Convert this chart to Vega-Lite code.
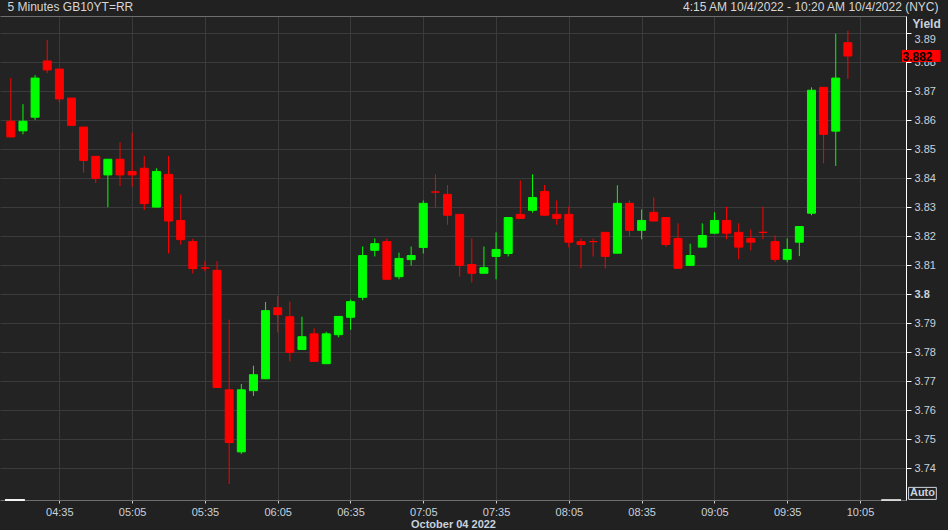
{
  "$schema": "https://vega.github.io/schema/vega-lite/v6.json",
  "width": 906,
  "height": 484,
  "autosize": {"type": "none"},
  "padding": {"left": 0, "top": 16, "right": 42, "bottom": 30},
  "background": "#212121",
  "config": {"view": {"fill": "#222322", "stroke": null}, "font": "Liberation Sans"},
  "data": {"values": [
    {"t": "2022-10-04T04:15:00", "o": 3.8597, "h": 3.8746, "l": 3.8543, "c": 3.8543},
    {"t": "2022-10-04T04:20:00", "o": 3.8564, "h": 3.8656, "l": 3.8552, "c": 3.8597},
    {"t": "2022-10-04T04:25:00", "o": 3.8611, "h": 3.8756, "l": 3.8601, "c": 3.8746},
    {"t": "2022-10-04T04:30:00", "o": 3.8805, "h": 3.8878, "l": 3.8763, "c": 3.8774},
    {"t": "2022-10-04T04:35:00", "o": 3.8777, "h": 3.8777, "l": 3.8662, "c": 3.8674},
    {"t": "2022-10-04T04:40:00", "o": 3.8677, "h": 3.8677, "l": 3.8583, "c": 3.8583},
    {"t": "2022-10-04T04:45:00", "o": 3.8577, "h": 3.8577, "l": 3.8420, "c": 3.8462},
    {"t": "2022-10-04T04:50:00", "o": 3.8476, "h": 3.8476, "l": 3.8384, "c": 3.8400},
    {"t": "2022-10-04T04:55:00", "o": 3.8412, "h": 3.8466, "l": 3.8301, "c": 3.8466},
    {"t": "2022-10-04T05:00:00", "o": 3.8466, "h": 3.8524, "l": 3.8374, "c": 3.8412},
    {"t": "2022-10-04T05:05:00", "o": 3.8424, "h": 3.8558, "l": 3.8371, "c": 3.8412},
    {"t": "2022-10-04T05:10:00", "o": 3.8435, "h": 3.8477, "l": 3.8291, "c": 3.8313},
    {"t": "2022-10-04T05:15:00", "o": 3.8301, "h": 3.8435, "l": 3.8301, "c": 3.8424},
    {"t": "2022-10-04T05:20:00", "o": 3.8414, "h": 3.8477, "l": 3.8141, "c": 3.8253},
    {"t": "2022-10-04T05:25:00", "o": 3.8255, "h": 3.8345, "l": 3.8172, "c": 3.8189},
    {"t": "2022-10-04T05:30:00", "o": 3.8182, "h": 3.8192, "l": 3.8072, "c": 3.8089},
    {"t": "2022-10-04T05:35:00", "o": 3.8091, "h": 3.8114, "l": 3.8080, "c": 3.8091},
    {"t": "2022-10-04T05:40:00", "o": 3.8083, "h": 3.8114, "l": 3.7679, "c": 3.7679},
    {"t": "2022-10-04T05:45:00", "o": 3.7671, "h": 3.7913, "l": 3.7346, "c": 3.7489},
    {"t": "2022-10-04T05:50:00", "o": 3.7457, "h": 3.7691, "l": 3.7450, "c": 3.7671},
    {"t": "2022-10-04T05:55:00", "o": 3.7668, "h": 3.7754, "l": 3.7650, "c": 3.7723},
    {"t": "2022-10-04T06:00:00", "o": 3.7709, "h": 3.7974, "l": 3.7709, "c": 3.7944},
    {"t": "2022-10-04T06:05:00", "o": 3.7954, "h": 3.7995, "l": 3.7869, "c": 3.7930},
    {"t": "2022-10-04T06:10:00", "o": 3.7923, "h": 3.7975, "l": 3.7769, "c": 3.7800},
    {"t": "2022-10-04T06:15:00", "o": 3.7810, "h": 3.7923, "l": 3.7810, "c": 3.7854},
    {"t": "2022-10-04T06:20:00", "o": 3.7864, "h": 3.7883, "l": 3.7769, "c": 3.7769},
    {"t": "2022-10-04T06:25:00", "o": 3.7761, "h": 3.7871, "l": 3.7761, "c": 3.7864},
    {"t": "2022-10-04T06:30:00", "o": 3.7861, "h": 3.7924, "l": 3.7852, "c": 3.7924},
    {"t": "2022-10-04T06:35:00", "o": 3.7921, "h": 3.7982, "l": 3.7878, "c": 3.7975},
    {"t": "2022-10-04T06:40:00", "o": 3.7990, "h": 3.8165, "l": 3.7980, "c": 3.8134},
    {"t": "2022-10-04T06:45:00", "o": 3.8152, "h": 3.8193, "l": 3.8131, "c": 3.8175},
    {"t": "2022-10-04T06:50:00", "o": 3.8182, "h": 3.8193, "l": 3.8052, "c": 3.8052},
    {"t": "2022-10-04T06:55:00", "o": 3.8061, "h": 3.8144, "l": 3.8052, "c": 3.8124},
    {"t": "2022-10-04T07:00:00", "o": 3.8120, "h": 3.8165, "l": 3.8099, "c": 3.8134},
    {"t": "2022-10-04T07:05:00", "o": 3.8162, "h": 3.8324, "l": 3.8141, "c": 3.8314},
    {"t": "2022-10-04T07:10:00", "o": 3.8353, "h": 3.8414, "l": 3.8300, "c": 3.8353},
    {"t": "2022-10-04T07:15:00", "o": 3.8345, "h": 3.8377, "l": 3.8240, "c": 3.8273},
    {"t": "2022-10-04T07:20:00", "o": 3.8276, "h": 3.8276, "l": 3.8061, "c": 3.8100},
    {"t": "2022-10-04T07:25:00", "o": 3.8103, "h": 3.8193, "l": 3.8041, "c": 3.8073},
    {"t": "2022-10-04T07:30:00", "o": 3.8073, "h": 3.8165, "l": 3.8073, "c": 3.8092},
    {"t": "2022-10-04T07:35:00", "o": 3.8131, "h": 3.8214, "l": 3.8052, "c": 3.8155},
    {"t": "2022-10-04T07:40:00", "o": 3.8141, "h": 3.8265, "l": 3.8131, "c": 3.8265},
    {"t": "2022-10-04T07:45:00", "o": 3.8276, "h": 3.8393, "l": 3.8262, "c": 3.8262},
    {"t": "2022-10-04T07:50:00", "o": 3.8290, "h": 3.8414, "l": 3.8282, "c": 3.8334},
    {"t": "2022-10-04T07:55:00", "o": 3.8355, "h": 3.8377, "l": 3.8273, "c": 3.8273},
    {"t": "2022-10-04T08:00:00", "o": 3.8276, "h": 3.8324, "l": 3.8240, "c": 3.8262},
    {"t": "2022-10-04T08:05:00", "o": 3.8276, "h": 3.8303, "l": 3.8162, "c": 3.8180},
    {"t": "2022-10-04T08:10:00", "o": 3.8182, "h": 3.8193, "l": 3.8090, "c": 3.8172},
    {"t": "2022-10-04T08:15:00", "o": 3.8182, "h": 3.8193, "l": 3.8131, "c": 3.8182},
    {"t": "2022-10-04T08:20:00", "o": 3.8214, "h": 3.8214, "l": 3.8090, "c": 3.8131},
    {"t": "2022-10-04T08:25:00", "o": 3.8142, "h": 3.8376, "l": 3.8142, "c": 3.8314},
    {"t": "2022-10-04T08:30:00", "o": 3.8314, "h": 3.8324, "l": 3.8200, "c": 3.8221},
    {"t": "2022-10-04T08:35:00", "o": 3.8221, "h": 3.8293, "l": 3.8190, "c": 3.8255},
    {"t": "2022-10-04T08:40:00", "o": 3.8283, "h": 3.8334, "l": 3.8253, "c": 3.8253},
    {"t": "2022-10-04T08:45:00", "o": 3.8265, "h": 3.8265, "l": 3.8163, "c": 3.8172},
    {"t": "2022-10-04T08:50:00", "o": 3.8193, "h": 3.8245, "l": 3.8090, "c": 3.8090},
    {"t": "2022-10-04T08:55:00", "o": 3.8100, "h": 3.8175, "l": 3.8100, "c": 3.8134},
    {"t": "2022-10-04T09:00:00", "o": 3.8163, "h": 3.8245, "l": 3.8163, "c": 3.8203},
    {"t": "2022-10-04T09:05:00", "o": 3.8211, "h": 3.8283, "l": 3.8211, "c": 3.8255},
    {"t": "2022-10-04T09:10:00", "o": 3.8255, "h": 3.8302, "l": 3.8190, "c": 3.8211},
    {"t": "2022-10-04T09:15:00", "o": 3.8214, "h": 3.8245, "l": 3.8121, "c": 3.8163},
    {"t": "2022-10-04T09:20:00", "o": 3.8193, "h": 3.8224, "l": 3.8152, "c": 3.8180},
    {"t": "2022-10-04T09:25:00", "o": 3.8214, "h": 3.8302, "l": 3.8190, "c": 3.8214},
    {"t": "2022-10-04T09:30:00", "o": 3.8182, "h": 3.8203, "l": 3.8111, "c": 3.8121},
    {"t": "2022-10-04T09:35:00", "o": 3.8121, "h": 3.8193, "l": 3.8111, "c": 3.8155},
    {"t": "2022-10-04T09:40:00", "o": 3.8180, "h": 3.8234, "l": 3.8132, "c": 3.8234},
    {"t": "2022-10-04T09:45:00", "o": 3.8280, "h": 3.8714, "l": 3.8273, "c": 3.8704},
    {"t": "2022-10-04T09:50:00", "o": 3.8714, "h": 3.8714, "l": 3.8452, "c": 3.8552},
    {"t": "2022-10-04T09:55:00", "o": 3.8563, "h": 3.8899, "l": 3.8443, "c": 3.8746},
    {"t": "2022-10-04T10:00:00", "o": 3.8868, "h": 3.8909, "l": 3.8743, "c": 3.8822}
  ]},
  "layer": [
    {
      "mark": {"type": "rule", "strokeWidth": 1},
      "encoding": {
        "x": {
          "field": "t", "type": "temporal",
          "scale": {"nice": false, "domain": [
            {"year": 2022, "month": 10, "date": 4, "hours": 4, "minutes": 12, "seconds": 36},
            {"year": 2022, "month": 10, "date": 4, "hours": 10, "minutes": 21, "seconds": 54}
          ]},
          "axis": {
            "orient": "bottom",
            "values": [
              {"year": 2022, "month": 10, "date": 4, "hours": 4, "minutes": 35},
              {"year": 2022, "month": 10, "date": 4, "hours": 5, "minutes": 5},
              {"year": 2022, "month": 10, "date": 4, "hours": 5, "minutes": 35},
              {"year": 2022, "month": 10, "date": 4, "hours": 6, "minutes": 5},
              {"year": 2022, "month": 10, "date": 4, "hours": 6, "minutes": 35},
              {"year": 2022, "month": 10, "date": 4, "hours": 7, "minutes": 5},
              {"year": 2022, "month": 10, "date": 4, "hours": 7, "minutes": 35},
              {"year": 2022, "month": 10, "date": 4, "hours": 8, "minutes": 5},
              {"year": 2022, "month": 10, "date": 4, "hours": 8, "minutes": 35},
              {"year": 2022, "month": 10, "date": 4, "hours": 9, "minutes": 5},
              {"year": 2022, "month": 10, "date": 4, "hours": 9, "minutes": 35},
              {"year": 2022, "month": 10, "date": 4, "hours": 10, "minutes": 5}
            ],
            "format": "%H:%M",
            "labelColor": "#c9d1dc",
            "labelFontSize": 11,
            "labelPadding": 3,
            "labelFlush": false,
            "labelOverlap": false,
            "tickColor": "#d0d0d0",
            "tickSize": 3,
            "domainColor": "#6e6e6e",
            "grid": true,
            "gridColor": "#3b3b3b",
            "title": "October 04 2022",
            "titleColor": "#c9d1dc",
            "titleFontSize": 11,
            "titleFontWeight": "bold",
            "titlePadding": 1
          }
        },
        "y": {
          "field": "l", "type": "quantitative",
          "scale": {"domain": [3.7291, 3.896], "nice": false, "zero": false},
          "axis": {
            "orient": "right",
            "values": [3.74, 3.75, 3.76, 3.77, 3.78, 3.79, 3.8, 3.81, 3.82, 3.83, 3.84, 3.85, 3.86, 3.87, 3.88, 3.89],
            "format": ".2~f",
            "labelColor": "#c9d1dc",
            "labelFontSize": 11,
            "labelPadding": 3,
            "labelFontWeight": {"condition": {"test": "abs(datum.value - 3.8) < 0.0001", "value": "bold"}, "value": "normal"},
            "labelBaseline": {"condition": {"test": "datum.value > 3.885", "value": "top"}, "value": "middle"},
            "tickColor": "#ffffff",
            "tickSize": 5,
            "domainColor": "#ffffff",
            "grid": true,
            "gridColor": "#3b3b3b",
            "title": "Yield",
            "titleAngle": 0,
            "titleX": 6,
            "titleY": 11,
            "titleAlign": "left",
            "titleBaseline": "alphabetic",
            "titleColor": "#c9d1dc",
            "titleFontSize": 12,
            "titleFontWeight": "bold"
          }
        },
        "y2": {"field": "h"},
        "color": {"condition": {"test": "datum.c > datum.o", "value": "#00ff00"}, "value": "#ff0000"}
      }
    },
    {
      "mark": {"type": "bar", "width": 8, "strokeWidth": 1},
      "encoding": {
        "x": {
          "field": "t", "type": "temporal",
          "axis": {
            "orient": "top",
            "values": [
              {"year": 2022, "month": 10, "date": 4, "hours": 4, "minutes": 12, "seconds": 36},
              {"year": 2022, "month": 10, "date": 4, "hours": 10, "minutes": 21, "seconds": 54}
            ],
            "labelExpr": "datum.index < 0.5 ? '5 Minutes GB10YT=RR' : '4:15 AM 10/4/2022 - 10:20 AM 10/4/2022 (NYC)'",
            "labelAlign": {"condition": {"test": "datum.index < 0.5", "value": "left"}, "value": "right"},
            "labelOffset": {"condition": {"test": "datum.index < 0.5", "value": 2}, "value": 37},
            "labelColor": "#d6d6d6",
            "labelFontSize": 12,
            "labelPadding": 3,
            "labelLimit": 400,
            "labelFlush": false,
            "labelOverlap": false,
            "labelBound": false,
            "ticks": false,
            "tickSize": 0,
            "grid": false,
            "domainColor": "#6e6e6e",
            "title": null
          }
        },
        "y": {"field": "o", "type": "quantitative", "axis": null},
        "y2": {"field": "c"},
        "color": {"condition": {"test": "datum.c > datum.o", "value": "#00ff00"}, "value": "#ff0000"},
        "stroke": {"condition": {"test": "datum.c > datum.o", "value": "#00ff00"}, "value": "#ff0000"}
      }
    },
    {
      "data": {"values": [{"part": "start"}, {"part": "end"}]},
      "mark": {"type": "rule", "color": "#ffffff", "strokeWidth": 1.5},
      "encoding": {
        "x": {"datum": {"year": 2022, "month": 10, "date": 4, "hours": 4, "minutes": 12, "seconds": 36}, "type": "temporal", "axis": null},
        "x2": {"datum": {"year": 2022, "month": 10, "date": 4, "hours": 4, "minutes": 20, "seconds": 45}},
        "y": {"datum": 3.7291, "type": "quantitative", "axis": null}
      }
    },
    {
      "data": {"values": [{"part": "end"}]},
      "mark": {"type": "rule", "color": "#ffffff", "strokeWidth": 1.5},
      "encoding": {
        "x": {"datum": {"year": 2022, "month": 10, "date": 4, "hours": 10, "minutes": 13, "seconds": 45}, "type": "temporal", "axis": null},
        "x2": {"datum": {"year": 2022, "month": 10, "date": 4, "hours": 10, "minutes": 21, "seconds": 54}},
        "y": {"datum": 3.7291, "type": "quantitative", "axis": null}
      }
    },
    {
      "data": {"values": [{"last": 3.882}]},
      "mark": {"type": "rect", "fill": "#ff0000"},
      "encoding": {
        "x": {"datum": {"year": 2022, "month": 10, "date": 4, "hours": 10, "minutes": 22, "seconds": 18}, "type": "temporal", "axis": null},
        "x2": {"datum": {"year": 2022, "month": 10, "date": 4, "hours": 10, "minutes": 38, "seconds": 12}},
        "y": {"datum": 3.8843, "type": "quantitative", "axis": null},
        "y2": {"datum": 3.8801}
      }
    },
    {
      "data": {"values": [{"last": 3.882}]},
      "mark": {"type": "text", "align": "left", "baseline": "middle", "fontWeight": "bold", "fontSize": 12, "color": "#000000"},
      "encoding": {
        "x": {"datum": {"year": 2022, "month": 10, "date": 4, "hours": 10, "minutes": 22, "seconds": 30}, "type": "temporal", "axis": null},
        "y": {"field": "last", "type": "quantitative", "axis": null},
        "text": {"field": "last", "type": "quantitative", "format": ".3f"}
      }
    },
    {
      "data": {"values": [{"label": "Auto"}]},
      "mark": {"type": "rect", "fill": "#212121", "stroke": "#d0d6e0", "strokeWidth": 1},
      "encoding": {
        "x": {"datum": {"year": 2022, "month": 10, "date": 4, "hours": 10, "minutes": 25, "seconds": 2}, "type": "temporal", "axis": null},
        "x2": {"datum": {"year": 2022, "month": 10, "date": 4, "hours": 10, "minutes": 36, "seconds": 27}},
        "y": {"datum": 3.73345, "type": "quantitative", "axis": null},
        "y2": {"datum": 3.72931}
      }
    },
    {
      "data": {"values": [{"label": "Auto"}]},
      "mark": {"type": "text", "align": "center", "baseline": "middle", "fontWeight": "bold", "fontSize": 11, "color": "#c9d1dc"},
      "encoding": {
        "x": {"datum": {"year": 2022, "month": 10, "date": 4, "hours": 10, "minutes": 30, "seconds": 45}, "type": "temporal", "axis": null},
        "y": {"datum": 3.73138, "type": "quantitative", "axis": null},
        "text": {"field": "label", "type": "nominal"}
      }
    }
  ],
  "resolve": {"axis": {"x": "independent", "y": "independent"}}
}
